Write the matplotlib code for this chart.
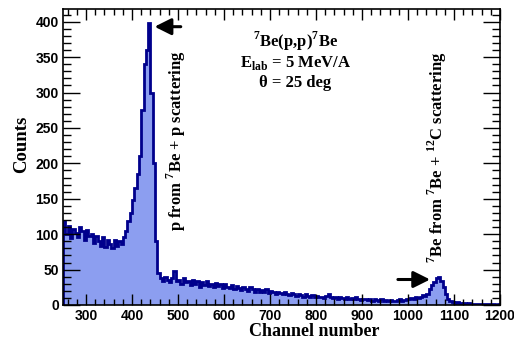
import numpy as np
import matplotlib
matplotlib.use("Agg")
import matplotlib.pyplot as plt
from matplotlib.ticker import MultipleLocator

# histogram: 5-channel bins starting at channel 250
first_channel = 250
bin_width = 5
counts = [
    118, 100, 112, 95, 108, 102, 96, 110, 104, 92, 106, 98, 100, 88, 97, 90, 84, 96, 82, 92,
    86, 80, 92, 84, 90, 86,
    96, 105, 118, 130,
    148, 165, 185, 210, 275, 340, 360, 398, 300, 200, 90, 45,
    38, 34, 40, 36, 32, 38, 48, 34, 36, 30, 38, 32, 34, 28, 36, 30, 34, 26, 32, 28,
    34, 27, 30, 25, 31, 27, 29, 24, 30, 26, 24, 28, 22, 27, 24, 21, 26, 23, 20, 25,
    22, 19, 23, 18, 21, 19, 22, 17, 20, 18, 16, 19, 17, 15, 18, 16, 14, 17, 15, 13,
    16, 14, 12, 15, 13, 11, 14, 12, 13, 11, 12, 10, 13, 15, 11, 10, 12, 9, 11, 10,
    8, 11, 9, 10, 8, 11, 9, 7, 9, 8, 7, 9, 6, 8, 7, 6, 8, 6, 7, 5,
    7, 6, 5, 7, 8, 6, 7, 9, 8, 10, 9, 11, 10, 12, 14, 13, 16, 22, 28, 33,
    38, 40, 34, 26, 16, 8, 5, 4, 3, 4, 3, 2, 3, 2, 3, 2, 2, 1, 2, 1,
    2, 1, 1, 1, 1, 1, 0, 1,
]

x_ticks = [300, 400, 500, 600, 700, 800, 900, 1000, 1100, 1200]
y_ticks = [0, 50, 100, 150, 200, 250, 300, 350, 400]

edges = first_channel + bin_width * np.arange(len(counts) + 1)

plt.rcParams['mathtext.fontset'] = 'custom'
plt.rcParams['mathtext.rm'] = 'Liberation Serif:bold'
plt.rcParams['mathtext.bf'] = 'Liberation Serif:bold'

fig = plt.figure(figsize=(5.14, 3.39), dpi=100)
ax = fig.add_axes([0.1226, 0.1003, 0.8502, 0.8732])

ax.stairs(counts, edges, fill=True, color='#8c9ef0', lw=0)
ax.stairs(counts, edges, color='#00008c', lw=2.0)

ax.set_xlim(250, 1200)
ax.set_ylim(0, 418)
ax.set_xticks(x_ticks)
ax.set_yticks(y_ticks)
ax.xaxis.set_minor_locator(MultipleLocator(20))
ax.yaxis.set_minor_locator(MultipleLocator(10))
ax.tick_params(which='both', direction='in', top=True, right=True, width=1.0)
ax.tick_params(which='major', axis='x', length=8, pad=3)
ax.tick_params(which='minor', axis='x', length=4)
ax.tick_params(which='major', axis='y', length=12, pad=3)
ax.tick_params(which='minor', axis='y', length=6)
for lab in ax.get_xticklabels() + ax.get_yticklabels():
    lab.set_fontfamily('Liberation Sans')
    lab.set_fontweight('bold')
    lab.set_fontsize(10)
for s in ax.spines.values():
    s.set_linewidth(1.2)

# axis titles sit off-centre, as in the original
fig.text(314 / 514, 1 - 331 / 339, 'Channel number', family='Liberation Serif',
         weight='bold', fontsize=13, ha='center', va='center')
fig.text(22 / 514, 1 - 144 / 339, 'Counts', family='Liberation Serif',
         weight='bold', fontsize=13.5, ha='center', va='center', rotation=90)

tkw = dict(family='Liberation Serif', weight='bold', fontsize=12, ha='center', va='center')
ax.text(0.532, 0.889, r'$^{7}$Be(p,p)$^{7}$Be', transform=ax.transAxes, **tkw)
ax.text(0.532, 0.818, r'E$_{\mathrm{lab}}$ = 5 MeV/A', transform=ax.transAxes, **tkw)
ax.text(0.532, 0.75, 'θ = 25 deg', transform=ax.transAxes, **tkw)

ax.text(0.2586, 0.554, r'p from $^{7}$Be + p scattering', rotation=90,
        transform=ax.transAxes, **tkw)
ax.text(0.856, 0.498, r'$^{7}$Be from $^{7}$Be + $^{12}$C scattering', rotation=90,
        transform=ax.transAxes, **tkw)

akw = dict(arrowstyle='-|>,head_length=1.0,head_width=0.5', color='black', lw=2.2)
ax.annotate('', xy=(443, 393), xytext=(512, 393), arrowprops=akw)
ax.annotate('', xy=(1054, 36), xytext=(972, 36), arrowprops=akw)

fig.savefig('out.png', dpi=100)
